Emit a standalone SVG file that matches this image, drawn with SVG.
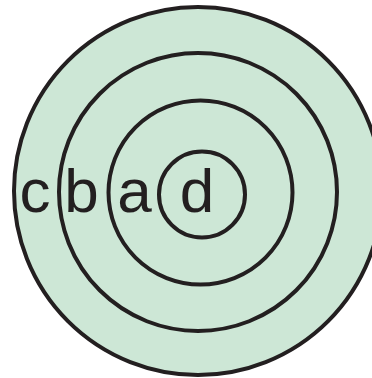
<svg xmlns="http://www.w3.org/2000/svg" width="372" height="378" viewBox="0 0 372 378">
<style>
.ring{fill:#cde7d6;stroke:#231f20;stroke-width:4}
.lbl{font-family:"Liberation Sans",Arial,sans-serif;font-size:62px;fill:#231f20;text-anchor:middle}
</style>
<rect width="372" height="378" fill="#ffffff"/>
<g id="c"><circle class="ring" cx="198" cy="191" r="184"/><text class="lbl" x="35" y="212">c</text></g>
<g id="b"><circle class="ring" cx="198" cy="192" r="139"/><text class="lbl" x="81.5" y="212">b</text></g>
<g id="a"><circle class="ring" cx="200.5" cy="192.5" r="92"/><text class="lbl" x="134.5" y="212">a</text></g>
<g id="d"><circle class="ring" cx="202" cy="194.5" r="43"/><text class="lbl" x="197" y="212">d</text></g>
<g id="connectors"/>
</svg>
